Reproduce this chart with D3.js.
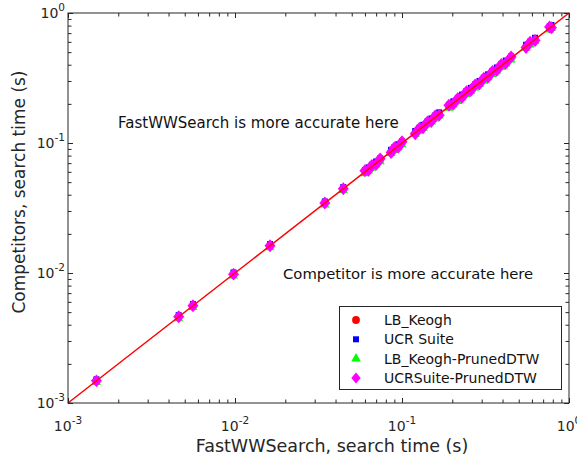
<!DOCTYPE html>
<html>
<head>
<meta charset="utf-8">
<script src="https://cdn.jsdelivr.net/npm/d3@7"></script>
<style>
  body { margin: 0; background: #fff; }
  svg { display: block; font-family: "DejaVu Sans", Verdana, sans-serif; }
</style>
</head>
<body>
<svg id="chart"></svg>
<script>
// FastWWSearch search time (s), one entry per dataset
const fastWW = [0.00148, 0.0046, 0.0056, 0.0098, 0.0162, 0.0345, 0.0445,
  0.060, 0.063, 0.066, 0.070, 0.074,
  0.086, 0.090, 0.095, 0.100,
  0.120, 0.127, 0.134, 0.142, 0.150, 0.158, 0.167,
  0.191, 0.203, 0.216, 0.229, 0.243, 0.258, 0.274, 0.291, 0.309, 0.328, 0.348, 0.370, 0.393, 0.418, 0.450,
  0.553, 0.585, 0.626,
  0.765, 0.785];

// competitors' search time (s)
const lbKeogh = [0.00149, 0.0046, 0.0056, 0.0099, 0.0163, 0.0347, 0.0446,
  0.0602, 0.0632, 0.0661, 0.0703, 0.0741,
  0.0862, 0.0903, 0.0951, 0.1003,
  0.1203, 0.1272, 0.1344, 0.1423, 0.1504, 0.1583, 0.1674,
  0.1915, 0.2034, 0.2166, 0.2295, 0.2436, 0.2585, 0.2746, 0.2916, 0.3097, 0.3287, 0.3488, 0.3708, 0.3938, 0.4188, 0.4509,
  0.5541, 0.5862, 0.6273,
  0.7665, 0.7866];

const ucrSuite = [0.00152, 0.00474, 0.00577, 0.0101, 0.0167, 0.0355, 0.0458,
  0.0618, 0.0649, 0.0680, 0.0721, 0.0762,
  0.0886, 0.0927, 0.0979, 0.1030,
  0.1236, 0.1308, 0.1380, 0.1463, 0.1545, 0.1627, 0.1720,
  0.1967, 0.2091, 0.2225, 0.2359, 0.2503, 0.2657, 0.2822, 0.2997, 0.3183, 0.3378, 0.3584, 0.3811, 0.4048, 0.4305, 0.4635,
  0.5696, 0.6026, 0.6448,
  0.7880, 0.8086];

const lbKeoghPruned = [0.00144, 0.00446, 0.00543, 0.00951, 0.01571, 0.0335, 0.0432,
  0.0582, 0.0611, 0.0640, 0.0679, 0.0718,
  0.0834, 0.0873, 0.0922, 0.0970,
  0.1164, 0.1232, 0.1300, 0.1377, 0.1455, 0.1533, 0.1620,
  0.1853, 0.1969, 0.2095, 0.2221, 0.2357, 0.2503, 0.2658, 0.2823, 0.2997, 0.3182, 0.3376, 0.3589, 0.3812, 0.4055, 0.4365,
  0.5364, 0.5675, 0.6072,
  0.7421, 0.7615];

const ucrPruned = [0.00148, 0.0046, 0.0056, 0.0098, 0.0162, 0.0346, 0.0445,
  0.0612, 0.0618, 0.0673, 0.0687, 0.0755,
  0.0844, 0.0919, 0.0931, 0.1021,
  0.1177, 0.1296, 0.1314, 0.1449, 0.1471, 0.1613, 0.1638,
  0.1949, 0.1991, 0.2204, 0.2245, 0.2481, 0.2530, 0.2797, 0.2853, 0.3154, 0.3216, 0.3552, 0.3628, 0.4011, 0.4098, 0.4592,
  0.5421, 0.5969, 0.6137,
  0.7805, 0.7695];

const seriesNames = ["LB_Keogh", "UCR Suite", "LB_Keogh-PrunedDTW", "UCRSuite-PrunedDTW"];
const seriesColors = ["#ff0000", "#0000ff", "#00ff00", "#ff00ff"];
const majorTicks = [0.001, 0.01, 0.1, 1];
const majorExps = ["-3", "-2", "-1", "0"];

const width = 577, height = 457;
const margin = { top: 13, right: 8, bottom: 54, left: 68 };

const svg = d3.select("#chart").attr("width", width).attr("height", height);

const x = d3.scaleLog().domain([1e-3, 1]).range([margin.left, width - margin.right]);
const y = d3.scaleLog().domain([1e-3, 1]).range([height - margin.bottom, margin.top]);

const minorTicks = [];
[0.001, 0.01, 0.1].forEach(d => { for (let k = 2; k <= 9; k++) minorTicks.push(k * d); });

const axisColor = "#262626";
const x0 = x.range()[0], x1 = x.range()[1], y0 = y.range()[0], y1 = y.range()[1];

// ticks on all four sides, pointing in
function tickAxes(vals, len) {
  const fmt = () => "";
  const axes = [
    [d3.axisBottom(x), `translate(0,${y0})`],
    [d3.axisTop(x), `translate(0,${y1})`],
    [d3.axisLeft(y), `translate(${x0},0)`],
    [d3.axisRight(y), `translate(${x1},0)`]
  ];
  axes.forEach(([ax, tr]) => {
    const g = svg.append("g").attr("transform", tr)
      .call(ax.tickValues(vals).tickSize(-len).tickFormat(fmt));
    g.select(".domain").remove();
    g.selectAll("line").attr("stroke", axisColor).attr("stroke-width", 1);
  });
}
tickAxes(minorTicks, 3.5);
tickAxes(majorTicks, 5);

// tick labels 10^n
majorTicks.forEach((v, i) => {
  const tx = svg.append("text").attr("x", x(v)).attr("y", y0 + 28)
    .attr("text-anchor", "middle").attr("fill", axisColor).style("font-size", "14px");
  tx.append("tspan").text("10");
  tx.append("tspan").attr("dy", -7).style("font-size", "10.5px").text(majorExps[i]);

  const ty = svg.append("text").attr("x", x0 - 3).attr("y", y(v) + 5)
    .attr("text-anchor", "end").attr("fill", axisColor).style("font-size", "14px");
  ty.append("tspan").text("10");
  ty.append("tspan").attr("dy", -7).style("font-size", "10.5px").text(majorExps[i]);
});

// markers
const diamond = {
  draw(ctx, size) {
    const h = Math.sqrt(size) * 0.85, w = h * 0.85;
    ctx.moveTo(0, -h); ctx.lineTo(w, 0); ctx.lineTo(0, h); ctx.lineTo(-w, 0); ctx.closePath();
  }
};
const symbols = [
  d3.symbol().type(d3.symbolCircle).size(40),
  d3.symbol().type(d3.symbolSquare).size(36),
  d3.symbol().type(d3.symbolTriangle).size(36),
  d3.symbol().type(diamond).size(58)
];
const legendSymbols = [
  d3.symbol().type(d3.symbolCircle).size(48),
  d3.symbol().type(d3.symbolSquare).size(36),
  d3.symbol().type(d3.symbolTriangle).size(40),
  d3.symbol().type(diamond).size(42)
];
const seriesValues = [lbKeogh, ucrSuite, lbKeoghPruned, ucrPruned];

const plot = svg.append("g");
seriesValues.forEach((vals, s) => {
  plot.append("g").selectAll("path")
    .data(fastWW.map((fx, i) => [fx, vals[i]]))
    .enter().append("path")
    .attr("d", symbols[s]())
    .attr("transform", d => `translate(${x(d[0])},${y(d[1])})`)
    .attr("fill", seriesColors[s]);
});

// y = x line
svg.append("line")
  .attr("x1", x(1e-3)).attr("y1", y(1e-3))
  .attr("x2", x(1)).attr("y2", y(1))
  .attr("stroke", "#ff0000").attr("stroke-width", 1.5);

// box
svg.append("rect").attr("x", x0).attr("y", y1)
  .attr("width", x1 - x0).attr("height", y0 - y1)
  .attr("fill", "none").attr("stroke", axisColor).attr("stroke-width", 1);

// annotations
svg.append("text").attr("x", 118).attr("y", 128).attr("fill", "#111")
  .style("font-size", "15px").text("FastWWSearch is more accurate here");
svg.append("text").attr("x", 283).attr("y", 279).attr("fill", "#111")
  .style("font-size", "14.8px").text("Competitor is more accurate here");

// axis labels
svg.append("text").attr("x", 332).attr("y", 452).attr("text-anchor", "middle")
  .attr("fill", axisColor).style("font-size", "17.5px").text("FastWWSearch, search time (s)");
svg.append("text").attr("transform", "rotate(-90)")
  .attr("x", -192).attr("y", 25).attr("text-anchor", "middle")
  .attr("fill", axisColor).style("font-size", "17px").text("Competitors, search time (s)");

// legend
const legend = svg.append("g");
legend.append("rect").attr("x", 339.5).attr("y", 306.5).attr("width", 222).attr("height", 83)
  .attr("fill", "#fff").attr("stroke", axisColor).attr("stroke-width", 1);
seriesNames.forEach((name, i) => {
  const ly = 320 + i * 19.3;
  legend.append("path").attr("d", legendSymbols[i]())
    .attr("transform", `translate(356,${ly})`).attr("fill", seriesColors[i]);
  legend.append("text").attr("x", 384).attr("y", ly + 5).attr("fill", "#111")
    .style("font-size", "14px").text(name);
});
</script>
</body>
</html>
